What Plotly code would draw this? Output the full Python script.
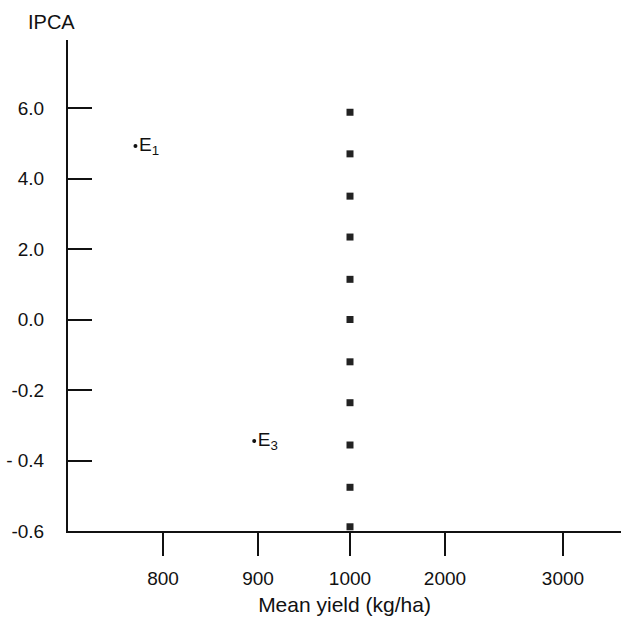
import numpy as np
import plotly.graph_objects as go

# Axis tick labels (non-uniform scales as printed)
x_tick_labels = [800, 900, 1000, 2000, 3000]
y_tick_labels = [-0.6, -0.4, -0.2, 0.0, 2.0, 4.0, 6.0]
y_tick_text = ["-0.6", "- 0.4", "-0.2", "0.0", "2.0", "4.0", "6.0"]

# Environments
env_names = ["E<sub>1</sub>", "E<sub>3</sub>"]
env_yield = [771, 896]
env_ipca = [4.92, -0.345]

# Genotype squares at mean yield 1000
geno_yield = [1000] * 11
geno_ipca = [5.88, 4.70, 3.50, 2.34, 1.14, 0.0, -0.12, -0.236, -0.356, -0.476, -0.588]

# Layout-only: where each printed tick sits along the axes
x_tick_pos = [163, 258, 350, 445, 563]
y_tick_pos = list(range(len(y_tick_labels)))


def xmap(v):
    v = np.asarray(v, dtype=float)
    slope0 = (x_tick_pos[1] - x_tick_pos[0]) / (x_tick_labels[1] - x_tick_labels[0])
    return np.where(v < x_tick_labels[0],
                    x_tick_pos[0] + (v - x_tick_labels[0]) * slope0,
                    np.interp(v, x_tick_labels, x_tick_pos))


def ymap(v):
    return np.interp(np.asarray(v, dtype=float), y_tick_labels, y_tick_pos)


FONT = "Liberation Sans, Arial, Helvetica"

fig = go.Figure()
fig.add_trace(go.Scatter(
    x=xmap(geno_yield), y=ymap(geno_ipca), mode="markers",
    marker=dict(symbol="square", size=7, color="#222222"),
    showlegend=False, hoverinfo="skip"))
fig.add_trace(go.Scatter(
    x=xmap(env_yield), y=ymap(env_ipca), mode="markers+text",
    marker=dict(symbol="circle", size=4, color="#111111"),
    text=env_names, textposition="middle right",
    textfont=dict(size=19, color="#111111", family=FONT),
    showlegend=False, hoverinfo="skip"))

fig.update_layout(
    width=621, height=617,
    margin=dict(l=68, r=0, t=40, b=86),
    paper_bgcolor="white", plot_bgcolor="white",
    font=dict(family=FONT, size=19, color="#111111"),
    xaxis=dict(
        range=[68, 621], tickmode="array", tickvals=x_tick_pos,
        ticktext=[str(v) for v in x_tick_labels],
        showgrid=False, zeroline=False, showline=True, linecolor="#111111", linewidth=2,
        ticks="outside", ticklen=23, tickwidth=2, tickcolor="#111111",
        ticklabelstandoff=6, tickfont=dict(size=19),
        title=dict(text="Mean yield (kg/ha)", standoff=10, font=dict(size=21)),
    ),
    yaxis=dict(
        range=[0, 6.965], tickmode="array", tickvals=y_tick_pos, ticktext=y_tick_text,
        showgrid=False, zeroline=False, showline=True, linecolor="#111111", linewidth=2,
        ticks="inside", ticklen=24, tickwidth=2, tickcolor="#111111",
        ticklabelstandoff=18, tickfont=dict(size=19),
    ),
    annotations=[dict(text="IPCA", xref="paper", yref="paper", x=-0.03, y=1.0,
                      yshift=18, xanchor="center", yanchor="middle", showarrow=False,
                      font=dict(size=20))],
)

fig.write_html("out.html", config={"displayModeBar": False},
               post_script="document.body.style.margin='0';document.body.style.overflow='hidden';")
